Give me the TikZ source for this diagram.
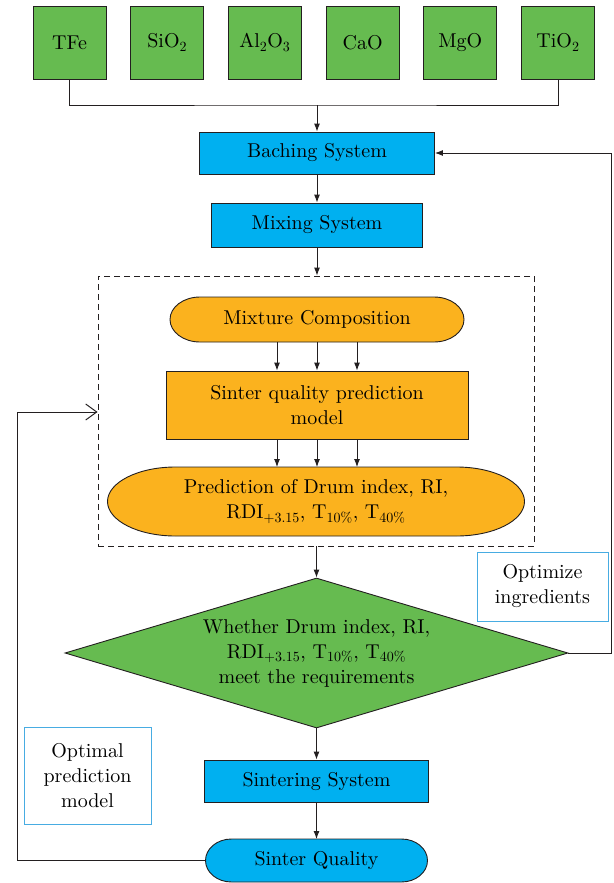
\documentclass[tikz,border=0pt]{standalone}
\usepackage{fontspec}
\usetikzlibrary{positioning, arrows.meta, shapes.geometric, backgrounds}

\newfontfamily\chartfont{lmroman10-regular.otf}

\definecolor{linegray}{RGB}{35,31,32}
\definecolor{boxgreen}{RGB}{102,187,80}
\definecolor{boxblue}{RGB}{0,176,240}
\definecolor{boxorange}{RGB}{251,178,30}
\definecolor{notecyan}{RGB}{72,172,226}

\tikzset{
    base/.style={draw=linegray, line width=0.9pt, font=\chartfont\fontsize{20}{25}\selectfont, align=center, inner sep=0pt},
    oxide/.style={base, fill=boxgreen, minimum width=73pt, minimum height=73pt},
    stage/.style={base, fill=boxblue, minimum height=42pt},
    pilltext/.style={base, draw=none, outer sep=0pt},
    note/.style={base, draw=notecyan, fill=white, line width=0.8pt},
    line/.style={draw=linegray, line width=0.9pt},
    flow/.style={line, -{Latex[length=8pt,width=6pt]}},
    back/.style={line, -{Straight Barb[length=11pt,width=16pt,line width=1pt]}}
}

\begin{document}
\begin{tikzpicture}[x=1pt, y=1pt]
    \useasboundingbox (0,0) rectangle (613,-883);

    \foreach \name/\txt [count=\i from 0] in {tfe/TFe, sio/SiO\textsubscript{2}, alo/Al\textsubscript{2}O\textsubscript{3}, cao/CaO, mgo/MgO, tio/TiO\textsubscript{2}}
        \node[oxide] (\name) at (69.5+97.7*\i, -42.5) {\txt};

    \node[stage, minimum width=235pt] (batch) at (317,-153) {Baching System};
    \node[stage, minimum width=211pt, minimum height=44pt] (mix) at (317,-225) {Mixing System};

    \node[line, dash pattern=on 6pt off 4pt, minimum width=436pt, minimum height=270pt] (frame) at (316,-411) {};
    \node[pilltext, minimum width=294pt, minimum height=45pt] (comp) at (317,-319.5) {Mixture Composition};
    \node[base, fill=boxorange, minimum width=302pt, minimum height=68pt] (model) at (317,-405) {Sinter quality prediction\\model};
    \node[pilltext, minimum width=417pt, minimum height=69pt] (pred) at (316,-501.5) {Prediction of Drum index, RI,\\RDI\textsubscript{+3.15}, T\textsubscript{10\%}, T\textsubscript{40\%}};

    \node[base, diamond, fill=boxgreen, shape aspect=3.35, minimum width=503pt, minimum height=150pt] (check) at (316.5,-653) {Whether Drum index, RI,\\RDI\textsubscript{+3.15}, T\textsubscript{10\%}, T\textsubscript{40\%}\\meet the requirements};

    \node[stage, minimum width=224pt] (sinter) at (316.5,-781) {Sintering System};
    \node[pilltext, minimum width=222pt, minimum height=43pt] (quality) at (316.5,-860.5) {Sinter Quality};

    \node[note, minimum width=131pt, minimum height=69pt] (optimize) at (542.5,-586.5) {Optimize\\ingredients};
    \node[note, minimum width=127pt, minimum height=97pt] (optimal) at (87.5,-775.5) {Optimal\\prediction\\model};

    \begin{scope}[on background layer]
        \foreach \nd/\rx/\ry/\c in {comp/30/22.5/boxorange, pred/68/34.5/boxorange, quality/26/21.5/boxblue}
            \path[line, fill=\c] ([xshift=\rx pt]\nd.north west) -- ([xshift=-\rx pt]\nd.north east)
                arc[start angle=90, end angle=-90, x radius=\rx pt, y radius=\ry pt]
                -- ([xshift=\rx pt]\nd.south west)
                arc[start angle=270, end angle=90, x radius=\rx pt, y radius=\ry pt] -- cycle;
    \end{scope}

    \coordinate (join) at (317,-105);
    \draw[line] (tfe.south) |- (join) -| (tio.south);
    \draw[flow] (join) -- (batch.north);
    \draw[flow] (batch) -- (mix);
    \draw[flow] (mix.south) -- (mix.south |- frame.north);
    \foreach \dx in {-40,0,40} {
        \draw[flow] ([xshift=\dx pt]comp.south) -- ([xshift=\dx pt]model.north);
        \draw[flow] ([xshift=\dx pt]model.south) -- ([xshift=\dx pt]model.south |- pred.north);
    }
    \draw[flow] (check.north |- frame.south) -- (check.north);
    \draw[flow] (check) -- (sinter);
    \draw[flow] (sinter) -- (quality);

    \coordinate (rightrail) at (611,-153);
    \draw[flow] (check.east) -| (rightrail) -- (batch.east);
    \coordinate (leftrail) at (17,-412);
    \draw[back] (quality.west) -| (leftrail) -- (leftrail -| frame.west);
\end{tikzpicture}
\end{document}
